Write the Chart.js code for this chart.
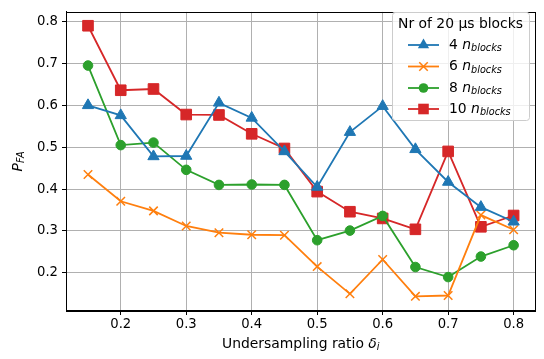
<!DOCTYPE html>
<html><head><meta charset="utf-8">
<script src="https://cdn.jsdelivr.net/npm/chart.js@4"></script>
<style>html,body{margin:0;padding:0;background:#fff}</style>
</head><body>
<canvas id="c" width="544" height="359"></canvas>
<script>
const ratios = [0.15,0.2,0.25,0.3,0.35,0.4,0.45,0.5,0.55,0.6,0.65,0.7,0.75,0.8];
const xTickValues = [0.2,0.3,0.4,0.5,0.6,0.7,0.8];
const yTickValues = [0.2,0.3,0.4,0.5,0.6,0.7,0.8];
const legendTitle = 'Nr of 20 μs blocks';
const blockCounts = ['4','6','8','10'];
const pfa4  = [0.600,0.576,0.478,0.479,0.606,0.570,0.490,0.405,0.536,0.598,0.495,0.417,0.357,0.322];
const pfa6  = [0.435,0.371,0.348,0.312,0.296,0.291,0.290,0.215,0.150,0.232,0.144,0.146,0.338,0.303];
const pfa8  = [0.695,0.505,0.511,0.446,0.410,0.411,0.410,0.278,0.301,0.336,0.214,0.190,0.239,0.266];
const pfa10 = [0.790,0.636,0.639,0.578,0.577,0.532,0.497,0.394,0.346,0.330,0.304,0.490,0.310,0.337];

const FONT = 'DejaVu Sans';
const MAIN = 13.9, SUB = 9.7, TICK = 13.2;
const colors = ['#1f77b4','#ff7f0e','#2ca02c','#d62728'];
const styles = ['triangle','crossRot','circle','rect'];
const radii = [6.5,6,4.8,7.5];
const allData = [pfa4,pfa6,pfa8,pfa10];

const datasets = allData.map((arr,i)=>({
  label: blockCounts[i],
  data: ratios.map((x,j)=>({x:x,y:arr[j]})),
  borderColor: colors[i],
  backgroundColor: colors[i],
  pointBackgroundColor: colors[i],
  pointBorderColor: colors[i],
  pointStyle: styles[i],
  pointRadius: radii[i],
  pointBorderWidth: i===1 ? 1.5 : 1,
  borderWidth: 1.8,
  tension: 0,
  clip: false
}));

function drawMarker(ctx, style, x, y, r, color){
  ctx.save();
  ctx.fillStyle = color; ctx.strokeStyle = color; ctx.lineWidth = 1.5;
  ctx.beginPath();
  if(style==='triangle'){
    ctx.moveTo(x, y - r);
    ctx.lineTo(x + Math.sin(2.0944)*r, y - Math.cos(2.0944)*r);
    ctx.lineTo(x + Math.sin(4.1888)*r, y - Math.cos(4.1888)*r);
    ctx.closePath(); ctx.fill();
  } else if(style==='crossRot'){
    const s = r*Math.SQRT1_2;
    ctx.moveTo(x-s,y-s); ctx.lineTo(x+s,y+s);
    ctx.moveTo(x-s,y+s); ctx.lineTo(x+s,y-s); ctx.stroke();
  } else if(style==='circle'){
    ctx.arc(x,y,r,0,Math.PI*2); ctx.fill();
  } else {
    const s = r*Math.SQRT1_2;
    ctx.rect(x-s,y-s,2*s,2*s); ctx.fill();
  }
  ctx.restore();
}

function roundRect(ctx,x,y,w,h,r){
  ctx.beginPath();
  ctx.moveTo(x+r,y); ctx.lineTo(x+w-r,y); ctx.quadraticCurveTo(x+w,y,x+w,y+r);
  ctx.lineTo(x+w,y+h-r); ctx.quadraticCurveTo(x+w,y+h,x+w-r,y+h);
  ctx.lineTo(x+r,y+h); ctx.quadraticCurveTo(x,y+h,x,y+h-r);
  ctx.lineTo(x,y+r); ctx.quadraticCurveTo(x,y,x+r,y); ctx.closePath();
}
const f = (sz, it) => (it?'italic ':'') + sz + 'px "' + FONT + '"';

const decor = {
  id:'decor',
  afterDraw(chart){
    const ctx = chart.ctx, a = chart.chartArea;
    ctx.save();
    ctx.strokeStyle = '#000'; ctx.lineWidth = 1;
    ctx.strokeRect(Math.round(a.left)+0.5, Math.round(a.top)+0.5, Math.round(a.right-a.left)-1, Math.round(a.bottom-a.top)-1);
    // legend
    const lx=392, ly=12, lw=137, lh=108;
    ctx.globalAlpha = 0.8; ctx.fillStyle='#fff'; roundRect(ctx,lx,ly,lw,lh,3); ctx.fill();
    ctx.globalAlpha = 1; ctx.strokeStyle='#cccccc'; ctx.lineWidth=1; roundRect(ctx,lx+0.5,ly+0.5,lw,lh,3); ctx.stroke();
    ctx.fillStyle='#000'; ctx.textBaseline='middle';
    ctx.font = f(MAIN); ctx.textAlign='center';
    ctx.fillText(legendTitle, lx+lw/2, 24);
    ctx.textAlign='left';
    const rowsY=[45,66.5,88,109];
    for(let i=0;i<4;i++){
      const y=rowsY[i];
      ctx.strokeStyle=colors[i]; ctx.lineWidth=1.8;
      ctx.beginPath(); ctx.moveTo(408,y); ctx.lineTo(439,y); ctx.stroke();
      drawMarker(ctx, styles[i], 423.5, y, radii[i], colors[i]);
      ctx.fillStyle='#000';
      ctx.font = f(MAIN);
      let x = 449;
      const t = blockCounts[i]+' ';
      ctx.fillText(t, x, y); x += ctx.measureText(t).width;
      ctx.font = f(MAIN,true);
      ctx.fillText('n', x, y); x += ctx.measureText('n').width;
      ctx.font = f(SUB,true);
      ctx.fillText('blocks', x, y+3.5);
    }
    // x title
    const p1='Undersampling ratio ';
    ctx.font = f(MAIN); const w1=ctx.measureText(p1).width;
    ctx.font = f(MAIN,true); const w2=ctx.measureText('δ').width;
    ctx.font = f(SUB,true); const w3=ctx.measureText('i').width;
    let xs = (a.left+a.right)/2 - (w1+w2+w3)/2;
    const yx = 344;
    ctx.font = f(MAIN); ctx.fillText(p1, xs, yx); xs+=w1;
    ctx.font = f(MAIN,true); ctx.fillText('δ', xs, yx); xs+=w2;
    ctx.font = f(SUB,true); ctx.fillText('i', xs, yx+3.5);
    // y title
    ctx.save();
    ctx.translate(18,(a.top+a.bottom)/2);
    ctx.rotate(-Math.PI/2);
    ctx.font = f(MAIN,true); const wp=ctx.measureText('P').width;
    ctx.font = f(SUB,true); const wf=ctx.measureText('FA').width;
    let ys = -(wp+wf)/2;
    ctx.font = f(MAIN,true); ctx.fillText('P', ys, 0); ys+=wp;
    ctx.font = f(SUB,true); ctx.fillText('FA', ys, 3.5);
    ctx.restore();
    ctx.restore();
  }
};

new Chart(document.getElementById('c'), {
  type:'line',
  data:{datasets},
  options:{
    responsive:false, animation:false,
    layout:{padding:{top:5,right:7,left:0,bottom:0}},
    plugins:{legend:{display:false}, tooltip:{enabled:false}},
    scales:{
      x:{
        type:'linear', min:0.1164, max:0.8334,
        afterBuildTicks(s){ s.ticks = xTickValues.map(v=>({value:v})); },
        afterFit(s){ s.height = 48; },
        ticks:{color:'#000', font:{family:FONT,size:TICK}, padding:2, maxRotation:0,
          callback:v=>v.toFixed(1)},
        grid:{color:'#b0b0b0', lineWidth:1, tickLength:4, tickColor:'#000'},
        border:{display:true,color:'#000',width:1}
      },
      y:{
        type:'linear', min:0.109, max:0.823,
        afterBuildTicks(s){ s.ticks = yTickValues.map(v=>({value:v})); },
        afterFit(s){ s.width = 66; },
        ticks:{color:'#000', font:{family:FONT,size:TICK}, padding:4,
          callback:v=>v.toFixed(1)},
        grid:{color:'#b0b0b0', lineWidth:1, tickLength:4, tickColor:'#000'},
        border:{display:true,color:'#000',width:1}
      }
    }
  },
  plugins:[decor]
});
</script>
</body></html>
